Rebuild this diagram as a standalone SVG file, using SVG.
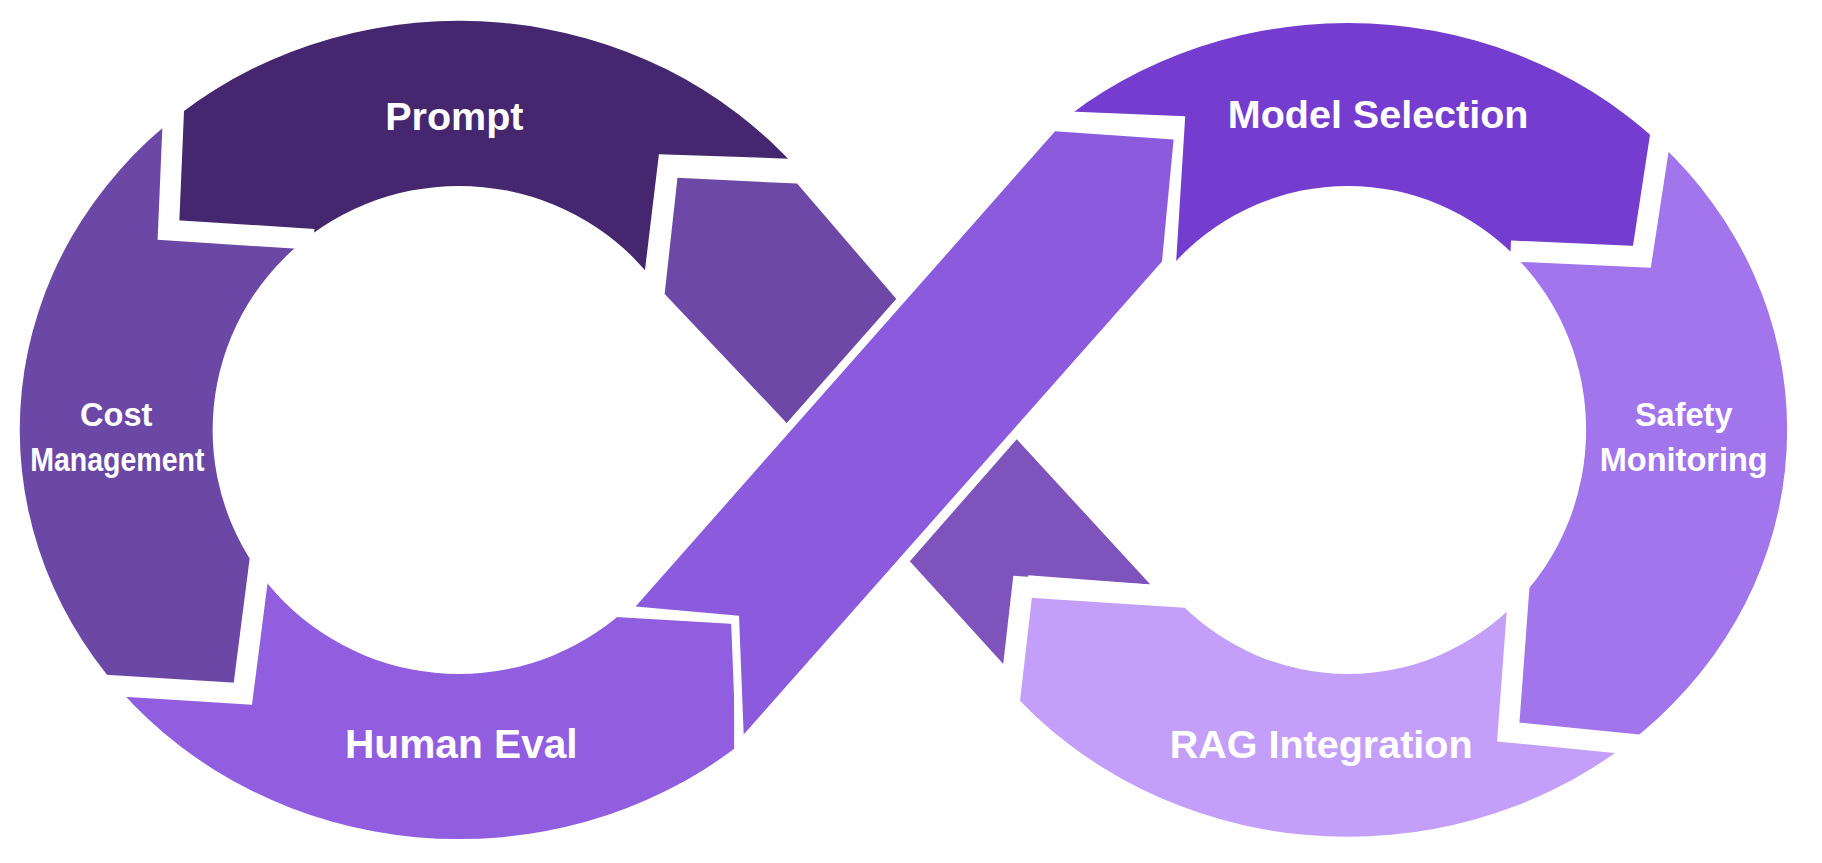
<svg xmlns="http://www.w3.org/2000/svg" width="1822" height="863" viewBox="0 0 1822 863">
<style>
.lbl{font-family:"Liberation Sans",Arial,sans-serif;font-weight:bold;fill:#fff;text-anchor:middle}
.gap{fill:none;stroke:#fff;stroke-width:18;stroke-linejoin:miter}
</style>
<defs>
<path id="ringL" fill-rule="evenodd" d="M17,370 a378,352 0 1,0 756,0 a378,352 0 1,0 -756,0 Z M183,370 a212,210 0 1,0 424,0 a212,210 0 1,0 -424,0 Z"/>
<path id="ringR" fill-rule="evenodd" d="M782,370 a378,350 0 1,0 756,0 a378,350 0 1,0 -756,0 Z M955,370 a205,210 0 1,0 410,0 a205,210 0 1,0 -410,0 Z"/>
<clipPath id="cPrompt"><polygon points="145,198 300,207 395,370 560,260 562,245 575,142 700,146 700,-10 148,-10"/></clipPath>
<clipPath id="cCost"><polygon points="145,198 148,-10 -10,-10 -10,592 95,590 209,597 222,490 240,460 395,370 300,207"/></clipPath>
<clipPath id="cHuman"><polygon points="95,590 -10,592 -10,760 632,760 632,537 530,531 395,370 222,490 209,597"/></clipPath>
<clipPath id="cModel"><polygon points="1010,260 1020,100 900,95 900,-10 1424,-10 1424,130 1413,221 1300,216 1160,370"/></clipPath>
<clipPath id="cSafety"><polygon points="1424,-10 1600,-10 1600,645 1400,640 1298,630 1306,505 1160,370 1300,216 1413,221 1424,130"/></clipPath>
<clipPath id="cRag"><polygon points="1160,370 1306,505 1298,630 1400,640 1600,645 1600,760 850,760 870,600 880,505 1020,515"/></clipPath>
</defs>
<g transform="scale(1.16199)">
<g id="prompt"><use href="#ringL" fill="#45276F" clip-path="url(#cPrompt)"/><text class="lbl" x="391" y="112" font-size="34">Prompt</text></g>
<g id="cost"><use href="#ringL" fill="#6C48A6" clip-path="url(#cCost)"/><text class="lbl" x="100" y="367" font-size="28">Cost</text><text class="lbl" x="101" y="405" font-size="28" textLength="150" lengthAdjust="spacingAndGlyphs">Management</text></g>
<g id="human"><use href="#ringL" fill="#905EDF" clip-path="url(#cHuman)"/><text class="lbl" x="397" y="652" font-size="35">Human Eval</text></g>
<g id="model"><use href="#ringR" fill="#743DCF" clip-path="url(#cModel)"/><text class="lbl" x="1186" y="110" font-size="34">Model Selection</text></g>
<g id="safety"><use href="#ringR" fill="#A275EC" clip-path="url(#cSafety)"/><text class="lbl" x="1449" y="367" font-size="28">Safety</text><text class="lbl" x="1449" y="405" font-size="28">Monitoring</text></g>
<g id="rag"><use href="#ringR" fill="#C49FF9" clip-path="url(#cRag)"/><text class="lbl" x="1137" y="652" font-size="34">RAG Integration</text></g>
<g id="connectors">
<polygon id="pieceA" points="583,153 686,158 772,258 678,365 572,253" fill="#6D48A7"/>
<polygon id="pieceB" points="875,378 990,503 885,495 873,582 783,483" fill="#7E53BC"/>
<polyline class="gap" points="150,80 145,198 270,206"/>
<polyline class="gap" points="690,146 575,142 562,250"/>
<polyline class="gap" points="80,589 209,597 224,480"/>
<polyline class="gap" points="1430,110 1413,221 1300,216"/>
<polyline class="gap" points="1308,495 1298,630 1410,641"/>
<polyline class="gap" points="1020,514 880,505 868,610"/>
<polygon id="diagonal" points="547,522 636,530 640,632 1000,225 1010,120 908,113" fill="#8B5ADD" stroke="#fff" stroke-width="14" paint-order="stroke" stroke-linejoin="miter"/>
</g>
</g>
</svg>
